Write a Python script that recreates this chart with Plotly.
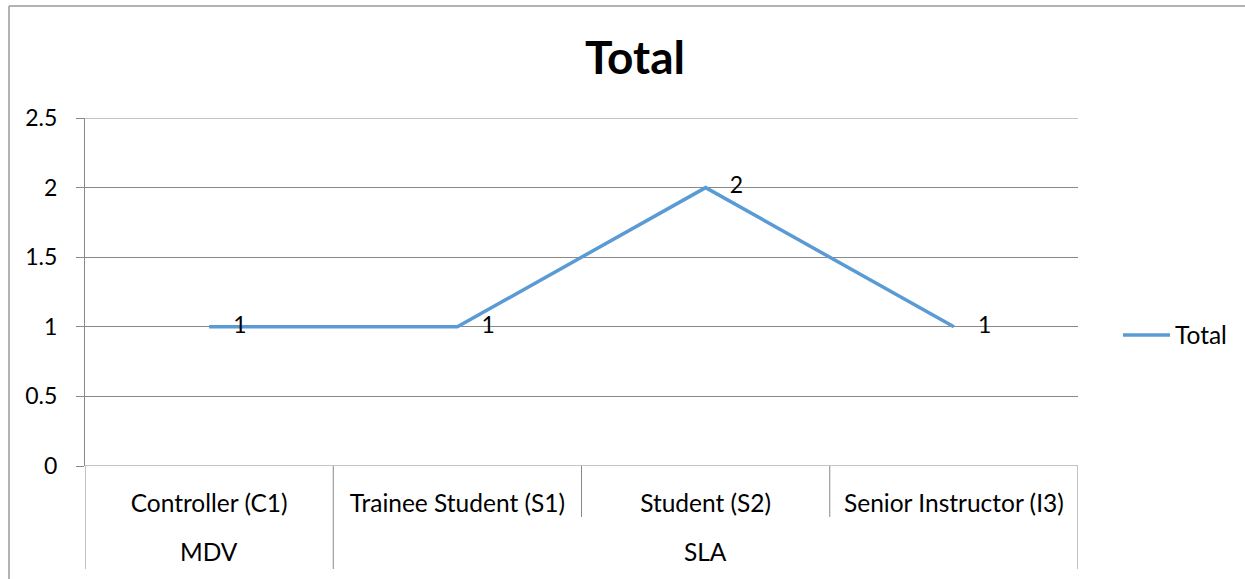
import plotly.graph_objects as go

categories = ["Controller (C1)", "Trainee Student (S1)", "Student (S2)", "Senior Instructor (I3)"]
groups = ["MDV", "SLA", "SLA", "SLA"]
values = [1, 1, 2, 1]
series_name = "Total"
y_ticks = [0, 0.5, 1, 1.5, 2, 2.5]
y_tick_labels = ["0", "0.5", "1", "1.5", "2", "2.5"]

FONT = "Lato"
FS = 23
FS_CAT = 24.5
GRID = "#898989"
LINE = "#5B9BD5"

W, H = 1245, 579
L, R, T, B = 85, 1078, 118, 466
pw, ph = R - L, B - T

def py(pix):
    return (B - pix) / ph

def px(pix):
    return (pix - L) / pw

x_idx = list(range(len(categories)))

fig = go.Figure()
fig.add_trace(go.Scatter(
    x=x_idx, y=values, mode="lines+markers+text", name=series_name,
    line=dict(color=LINE, width=3.5),
    marker=dict(size=37, color="rgba(0,0,0,0)", line=dict(width=0)),
    text=[str(v) for v in values], textposition="middle right",
    textfont=dict(family=FONT, size=FS, color="black"),
    cliponaxis=False, hoverinfo="skip",
))

shapes = []
# top gridline at range edge and bottom axis line
for yv in (y_ticks[-1], y_ticks[0]):
    shapes.append(dict(type="line", xref="x", yref="y", x0=-0.5, x1=len(categories) - 0.5,
                       y0=yv, y1=yv, line=dict(color=GRID, width=1), layer="below"))
# category separators
n = len(categories)
for i in range(n + 1):
    xb = i - 0.5
    if i == 0 or i == n or groups[i] != groups[i - 1]:
        y_end = py(569)
    else:
        y_end = py(517)
    shapes.append(dict(type="line", xref="x", yref="paper", x0=xb, x1=xb,
                       y0=0, y1=y_end, line=dict(color=GRID, width=1)))
# outer chart border (top and left)
shapes.append(dict(type="line", xref="paper", yref="paper", x0=px(9), x1=px(W + 5),
                   y0=py(6), y1=py(6), line=dict(color="#9a9a9a", width=1.5)))
shapes.append(dict(type="line", xref="paper", yref="paper", x0=px(9), x1=px(9),
                   y0=py(6), y1=py(H + 5), line=dict(color="#9a9a9a", width=1.5)))

annotations = []
start = 0
for i in range(1, n + 1):
    if i == n or groups[i] != groups[start]:
        annotations.append(dict(x=(start + i - 1) / 2, y=py(551), xref="x", yref="paper",
                                text=groups[start], showarrow=False,
                                font=dict(family=FONT, size=FS_CAT, color="black"),
                                xanchor="center", yanchor="middle"))
        start = i

fig.update_layout(
    width=W, height=H,
    margin=dict(l=L, r=W - R, t=T, b=H - B, pad=0),
    paper_bgcolor="white", plot_bgcolor="white",
    title=dict(text="<b>Total</b>", font=dict(family=FONT, size=46, color="black"),
               x=635 / W, xref="container", xanchor="center",
               y=1 - 58 / H, yref="container", yanchor="middle"),
    xaxis=dict(range=[-0.5, n - 0.5], tickmode="array", tickvals=x_idx, ticktext=categories,
               showgrid=False, zeroline=False, showline=False, ticks="",
               tickfont=dict(family=FONT, size=FS_CAT, color="black"), ticklabelstandoff=20),
    yaxis=dict(range=[0, 2.5], tickmode="array", tickvals=y_ticks, ticktext=y_tick_labels,
               showgrid=True, gridcolor=GRID, gridwidth=1, zeroline=False,
               showline=True, linecolor=GRID, linewidth=1,
               ticks="outside", ticklen=8, tickcolor=GRID,
               tickfont=dict(family=FONT, size=FS, color="black"), ticklabelstandoff=14),
    legend=dict(x=px(1118), y=py(335), xanchor="left", yanchor="middle", itemwidth=47,
                font=dict(family=FONT, size=FS_CAT, color="black"), bgcolor="rgba(0,0,0,0)"),
    showlegend=True,
    shapes=shapes, annotations=annotations,
)

fig.write_html("out.html", config={"displayModeBar": False},
               post_script="document.body.style.margin='0';")
